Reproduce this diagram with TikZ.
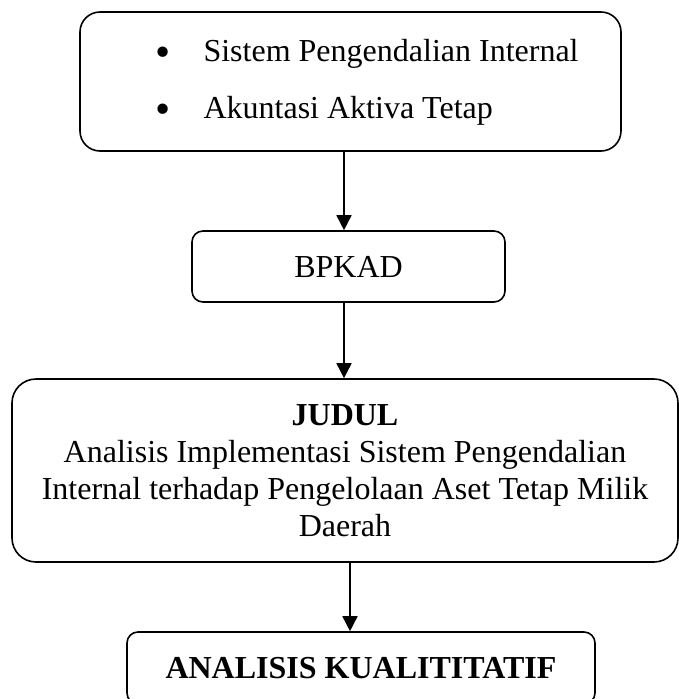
\documentclass[tikz,border=0pt]{standalone}
\usepackage{fontspec}
\setmainfont{Liberation Serif}
\usetikzlibrary{arrows.meta}

\tikzset{
  kotak/.style={draw, line width=1.6pt, align=center, inner sep=0pt},
  panah/.style={line width=1.6pt, -{Triangle[length=15pt,width=15pt]}}
}
\newcommand{\butir}{\raisebox{-5pt}{\scalebox{1.35}{\textbullet}}}

\begin{document}
\begin{tikzpicture}[x=1pt,y=-1pt,font=\fontsize{32}{37}\selectfont]
    \useasboundingbox (0,0) rectangle (678,699);
    \coordinate (kiri) at (344,0);
    \coordinate (tengah) at (350,0);
    \node[kotak, rounded corners=20pt, minimum width=541pt, minimum height=139pt] (teori) at (350.5,81.5)
        {\begin{tabular}{@{\hspace{33pt}}l@{\hspace{33pt}}l@{}}
         \rule{0pt}{29pt}\butir & Sistem Pengendalian Internal\\[20pt]
         \butir & Akuntasi Aktiva Tetap
         \end{tabular}};
    \node[kotak, rounded corners=11pt, minimum width=313pt, minimum height=71pt] (bpkad) at (348.5,266.5) {BPKAD};
    \node[kotak, rounded corners=24pt, minimum width=666pt, minimum height=183pt] (judul) at (345,470.5)
        {\textbf{JUDUL}\\
         Analisis Implementasi Sistem Pengendalian\\
         Internal terhadap Pengelolaan Aset Tetap Milik\\
         Daerah};
    \node[kotak, rounded corners=11pt, minimum width=468pt, minimum height=72pt] (analisis) at (361,668) {\textbf{ANALISIS KUALITITATIF}};
    \draw[panah] (teori.south -| kiri) -- (bpkad.north -| kiri);
    \draw[panah] (bpkad.south -| kiri) -- (judul.north -| kiri);
    \draw[panah] (judul.south -| tengah) -- (analisis.north -| tengah);
\end{tikzpicture}
\end{document}
